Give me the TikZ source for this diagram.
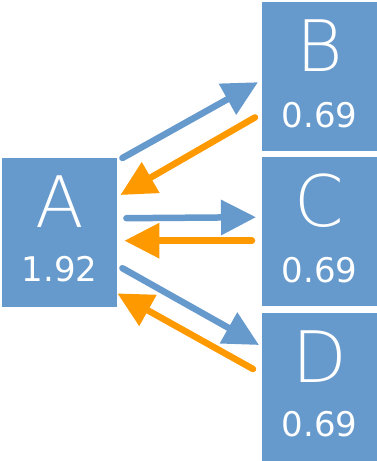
\documentclass[tikz,border=0pt]{standalone}
\usepackage{fontspec}
\setmainfont{DejaVu Sans}
\newfontfamily\thinfont{DejaVu Sans ExtraLight}
\usetikzlibrary{arrows.meta,calc}
\definecolor{nb}{HTML}{6699CC}
\definecolor{ar}{HTML}{FF9900}
\begin{document}
\begin{tikzpicture}[x=1pt,y=-1pt,
  box/.style={fill=nb, draw=none, minimum width=115pt, minimum height=149pt, inner sep=0pt, anchor=north west},
  big/.style={text=white, inner sep=0pt, anchor=base, font=\thinfont\fontsize{71}{71}\selectfont},
  num/.style={text=white, inner sep=0pt, anchor=base, font=\fontsize{34}{34}\selectfont},
  conn/.style={line width=6.5pt, line cap=round, -{Triangle[length=35pt,width=34pt]}},
  fwd/.style={conn, draw=nb},
  back/.style={conn, draw=ar}]
\useasboundingbox (0,0) rectangle (377,461);
\node[box] (A) at (2,158) {};
\node[box] (B) at (262,2) {};
\node[box] (C) at (262,157) {};
\node[box] (D) at (262,313) {};
\foreach \n in {A,B,C,D}{
  \node[big] (\n l) at ($(\n.north)+(0,69)$) {\n};
}
\node[num] (An) at ($(A.north)+(0,123)$) {1.92};
\node[num] (Bn) at ($(B.north)+(0,125)$) {0.69};
\node[num] (Cn) at ($(C.north)+(0,125)$) {0.69};
\node[num] (Dn) at ($(D.north)+(0,123)$) {0.69};
% A <-> B
\draw[fwd] ($(A.north east)+(5,0)$) -- ($(B.west)+(-4,5.5)$);
\draw[back] ($(B.south west)+(-7,-34)$) -- ($(A.north east)+(3,37)$);
% A <-> C
\draw[fwd] ($(A.east)+(9,-14.5)$) -- ($(C.west)+(-6,-14.5)$);
\draw[back] ($(C.west)+(-10,9)$) -- ($(A.east)+(7,8)$);
% A <-> D
\draw[fwd] ($(A.east)+(5,35.5)$) -- ($(D.north west)+(-3,32)$);
\draw[back] ($(D.north west)+(-9,56)$) -- ($(A.south east)+(0,-14)$);
\end{tikzpicture}
\end{document}
